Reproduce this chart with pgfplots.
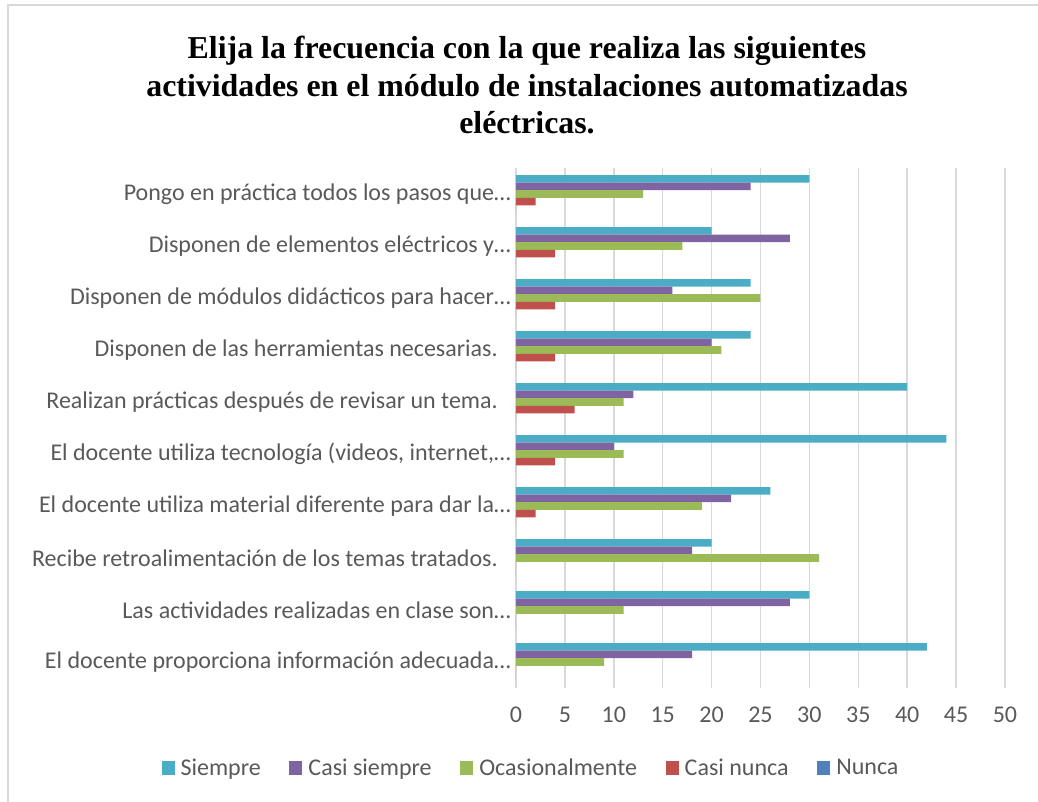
\documentclass[border=0pt]{standalone}
\usepackage{pgfplots}
\pgfplotsset{compat=1.18}
\usepackage{fontspec}
\setmainfont{Carlito}
\newfontfamily\titlefont{Liberation Serif}

\definecolor{cSiempre}{HTML}{4BACC6}
\definecolor{cCasiSiempre}{HTML}{8064A2}
\definecolor{cOcasional}{HTML}{9BBB59}
\definecolor{cCasiNunca}{HTML}{C0504D}
\definecolor{cNunca}{HTML}{4F81BD}
\definecolor{txt}{HTML}{595959}
\definecolor{gridc}{HTML}{D9D9D9}

\newcommand{\tsp}{\rule{9.75pt}{0pt}}

\begin{document}
\begin{tikzpicture}
% 1 px of the reference = 0.75pt; origin = lower left corner of the plot area
\useasboundingbox (-387pt,516pt) rectangle (391.5pt,-85.5pt);
\draw[gridc, line width=0.9pt] (-381pt,-90pt) -- (-381pt,512.25pt) -- (395pt,512.25pt);

\node[anchor=base, font=\titlefont\bfseries\fontsize{23.9pt}{28pt}\selectfont] at (8.25pt,472pt)
  {Elija la frecuencia con la que realiza las siguientes};
\node[anchor=base, font=\titlefont\bfseries\fontsize{23.9pt}{28pt}\selectfont] at (8.25pt,443.5pt)
  {actividades en el módulo de instalaciones automatizadas};
\node[anchor=base, font=\titlefont\bfseries\fontsize{23.9pt}{28pt}\selectfont] at (8.25pt,415.75pt)
  {eléctricas.};

\begin{axis}[
  at={(0,0)}, anchor=south west,
  scale only axis,
  width=366.75pt, height=390pt,
  xbar, bar width=0.146,
  xmin=0, xmax=50, ymin=0.5, ymax=10.5,
  xtick={0,5,...,50},
  ytick={1,...,10},
  yticklabels={
    El docente proporciona información adecuada…,
    Las actividades realizadas en clase son…,
    Recibe retroalimentación de los temas tratados.\tsp,
    El docente utiliza material diferente para dar la…,
    {El docente utiliza tecnología (videos, internet,…},
    Realizan prácticas después de revisar un tema.\tsp,
    Disponen de las herramientas necesarias.\tsp,
    Disponen de módulos didácticos para hacer…,
    Disponen de elementos eléctricos y…,
    Pongo en práctica todos los pasos que…},
  axis lines*=left,
  axis line style={draw=none},
  major tick length=0pt,
  xmajorgrids,
  grid style={gridc, line width=1.1pt},
  /pgf/number format/assume math mode=true,
  ticklabel style={font=\fontsize{18pt}{21.6pt}\selectfont, text=txt},
  yticklabel style={anchor=east, inner sep=0pt, xshift=-3.75pt},
  xticklabel style={anchor=north, inner sep=0pt, yshift=-14.25pt},
  legend columns=5,
  legend style={at={(0.0307,-0.1538)}, anchor=center, draw=none,
    font=\fontsize{18pt}{21.6pt}\selectfont, text=txt,
    nodes={inner sep=1.5pt},
    /tikz/every odd column/.append style={column sep=3pt},
    /tikz/every even column/.append style={column sep=20pt}},
  legend image code/.code={\fill[#1] (0pt,-4.9pt) rectangle (9.75pt,4.9pt);},
  clip=false,
]
\addplot[fill=cSiempre, draw=none, bar shift=0.292] coordinates {
(42,1) (30,2) (20,3) (26,4) (44,5) (40,6) (24,7) (24,8) (20,9) (30,10)};
\addlegendentry{Siempre}
\addplot[fill=cCasiSiempre, draw=none, bar shift=0.146] coordinates {
(18,1) (28,2) (18,3) (22,4) (10,5) (12,6) (20,7) (16,8) (28,9) (24,10)};
\addlegendentry{Casi siempre}
\addplot[fill=cOcasional, draw=none, bar shift=0] coordinates {
(9,1) (11,2) (31,3) (19,4) (11,5) (11,6) (21,7) (25,8) (17,9) (13,10)};
\addlegendentry{Ocasionalmente}
\addplot[fill=cCasiNunca, draw=none, bar shift=-0.146] coordinates {
(0,1) (0,2) (0,3) (2,4) (4,5) (6,6) (4,7) (4,8) (4,9) (2,10)};
\addlegendentry{Casi nunca}
\addplot[fill=cNunca, draw=none, bar shift=-0.292] coordinates {
(0,1) (0,2) (0,3) (0,4) (0,5) (0,6) (0,7) (0,8) (0,9) (0,10)};
\addlegendentry{Nunca}
\end{axis}
\end{tikzpicture}
\end{document}
